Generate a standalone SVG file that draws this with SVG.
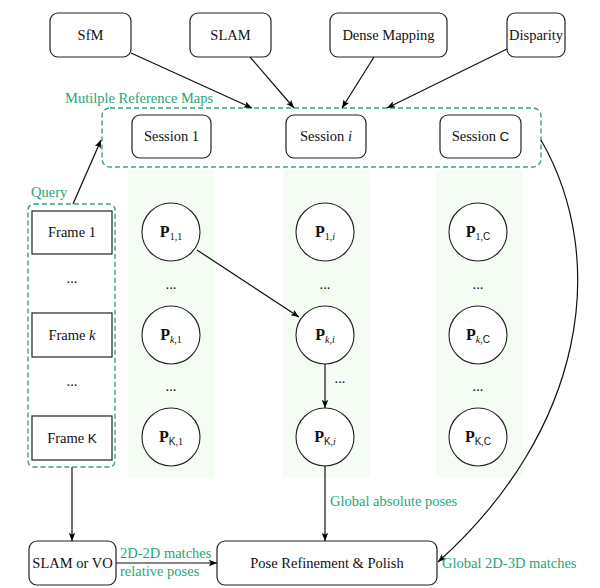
<svg xmlns="http://www.w3.org/2000/svg" width="600" height="588" viewBox="0 0 600 588">
<defs>
<marker id="ah" viewBox="0 0 10 10" refX="10" refY="5" markerWidth="8" markerHeight="8" markerUnits="userSpaceOnUse" orient="auto">
<path d="M0,1 L10,5 L0,9 L2,5 Z" fill="#000"/>
</marker>
<style>
.box{fill:#fff;stroke:#222;stroke-width:1.2}
.t{font-family:'Liberation Serif','DejaVu Serif',serif;font-size:14.5px;fill:#111;text-anchor:middle}
.g{font-family:'Liberation Serif','DejaVu Serif',serif;font-size:14.5px;fill:#1fa67a}
.dash{fill:none;stroke:#3a9f85;stroke-width:1.4;stroke-dasharray:5,3}
.col{fill:#f4fcf4}
.c{fill:#fff;stroke:#222;stroke-width:1.1}
.e{stroke:#111;stroke-width:1.2;fill:none;marker-end:url(#ah)}
.sub{font-size:10px}
.sf{font-family:'Liberation Sans',Arial,sans-serif}
</style>
</defs>
<rect width="600" height="588" fill="#fff"/>
<g id="columns">
<rect class="col" x="128" y="170" width="87" height="307"/>
<rect class="col" x="283" y="170" width="87" height="307"/>
<rect class="col" x="436" y="170" width="87" height="307"/>
</g>
<g id="groups">
<rect class="dash" x="102" y="108" width="439" height="59" rx="8"/>
<text class="g" x="65" y="103" font-family="Liberation Serif, serif">Mutilple Reference Maps</text>
<rect class="dash" x="28" y="204" width="87" height="263" rx="6"/>
<text class="g" x="31" y="197">Query</text>
</g>
<g id="n-sfm"><rect class="box" x="50" y="13" width="81" height="44" rx="8"/><text class="t" x="90.5" y="40">SfM</text></g>
<g id="n-slam"><rect class="box" x="190" y="13" width="81" height="44" rx="8"/><text class="t" x="230.5" y="40">SLAM</text></g>
<g id="n-dense"><rect class="box" x="330" y="13" width="117" height="44" rx="8"/><text class="t" x="388.5" y="40">Dense Mapping</text></g>
<g id="n-disp"><rect class="box" x="507" y="13" width="58" height="44" rx="8"/><text class="t" x="536" y="40">Disparity</text></g>
<g id="n-s1"><rect class="box" x="132" y="115" width="79" height="43" rx="8"/><text class="t" x="171.5" y="141">Session 1</text></g>
<g id="n-si"><rect class="box" x="286" y="115" width="80" height="43" rx="8"/><text class="t" x="326" y="141">Session <tspan font-style="italic">i</tspan></text></g>
<g id="n-sc"><rect class="box" x="440" y="115" width="81" height="43" rx="8"/><text class="t" x="480.5" y="141">Session <tspan class="sf" font-size="13.5">C</tspan></text></g>
<g id="n-f1"><rect class="box" x="32" y="211" width="80" height="43"/><text class="t" x="72" y="237">Frame 1</text></g>
<g id="n-fk"><rect class="box" x="32" y="313" width="80" height="44"/><text class="t" x="72" y="340">Frame <tspan font-style="italic">k</tspan></text></g>
<g id="n-fK"><rect class="box" x="32" y="416" width="80" height="44"/><text class="t" x="72" y="443">Frame <tspan class="sf" font-size="13.5">K</tspan></text></g>
<g id="dots">
<text class="t" x="72" y="283">...</text>
<text class="t" x="72" y="386">...</text>
<text class="t" x="171" y="289">...</text>
<text class="t" x="171" y="391">...</text>
<text class="t" x="325" y="289">...</text>
<text class="t" x="340" y="383">...</text>
<text class="t" x="478" y="289">...</text>
<text class="t" x="478" y="391">...</text>
</g>
<g id="n-p11"><circle class="c" cx="171" cy="232" r="29"/><text class="t" x="171" y="237"><tspan font-weight="bold" font-size="16">P</tspan><tspan class="sub" dy="3">1,1</tspan></text></g>
<g id="n-pk1"><circle class="c" cx="171" cy="335" r="29"/><text class="t" x="171" y="340"><tspan font-weight="bold" font-size="16">P</tspan><tspan class="sub" dy="3"><tspan font-style="italic">k</tspan>,1</tspan></text></g>
<g id="n-pK1"><circle class="c" cx="171" cy="437" r="29"/><text class="t" x="171" y="442"><tspan font-weight="bold" font-size="16">P</tspan><tspan class="sub" dy="3"><tspan class="sf">K</tspan>,1</tspan></text></g>
<g id="n-p1i"><circle class="c" cx="325" cy="232" r="29"/><text class="t" x="325" y="237"><tspan font-weight="bold" font-size="16">P</tspan><tspan class="sub" dy="3">1,<tspan font-style="italic">i</tspan></tspan></text></g>
<g id="n-pki"><circle class="c" cx="325" cy="335" r="29"/><text class="t" x="325" y="340"><tspan font-weight="bold" font-size="16">P</tspan><tspan class="sub" dy="3"><tspan font-style="italic">k</tspan>,<tspan font-style="italic">i</tspan></tspan></text></g>
<g id="n-pKi"><circle class="c" cx="325" cy="437" r="29"/><text class="t" x="325" y="442"><tspan font-weight="bold" font-size="16">P</tspan><tspan class="sub" dy="3"><tspan class="sf">K</tspan>,<tspan font-style="italic">i</tspan></tspan></text></g>
<g id="n-p1c"><circle class="c" cx="478" cy="232" r="29"/><text class="t" x="478" y="237"><tspan font-weight="bold" font-size="16">P</tspan><tspan class="sub" dy="3">1,<tspan class="sf">C</tspan></tspan></text></g>
<g id="n-pkc"><circle class="c" cx="478" cy="335" r="29"/><text class="t" x="478" y="340"><tspan font-weight="bold" font-size="16">P</tspan><tspan class="sub" dy="3"><tspan font-style="italic">k</tspan>,<tspan class="sf">C</tspan></tspan></text></g>
<g id="n-pKc"><circle class="c" cx="478" cy="437" r="29"/><text class="t" x="478" y="442"><tspan font-weight="bold" font-size="16">P</tspan><tspan class="sub" dy="3"><tspan class="sf">K</tspan>,<tspan class="sf">C</tspan></tspan></text></g>
<g id="n-slamvo"><rect class="box" x="29" y="541" width="87" height="44" rx="8"/><text class="t" x="72.5" y="568">SLAM or VO</text></g>
<g id="n-pose"><rect class="box" x="217" y="541" width="220" height="44" rx="8"/><text class="t" x="327" y="568">Pose Refinement &amp; Polish</text></g>
<g id="connectors">
<path class="e" d="M131,53 L252,108"/>
<path class="e" d="M250,57 L294,108"/>
<path class="e" d="M374,57 L342,108"/>
<path class="e" d="M507,49 L387,108"/>
<path class="e" d="M73,204 L101,140"/>
<path class="e" d="M197,250 L299,317"/>
<path class="e" d="M325,364 L325,408"/>
<path class="e" d="M72,467 L72,541"/>
<path class="e" d="M325,466 L325,541"/>
<path class="e" d="M116,563 L217,563"/>
<path class="e" d="M541,140 C610,260 585,430 438,562"/>
</g>
<g id="labels">
<text class="g" x="330" y="506">Global absolute poses</text>
<text class="g" x="120" y="558">2D-2D matches</text>
<text class="g" x="120" y="576">relative poses</text>
<text class="g" x="442" y="568">Global 2D-3D matches</text>
</g>
</svg>
